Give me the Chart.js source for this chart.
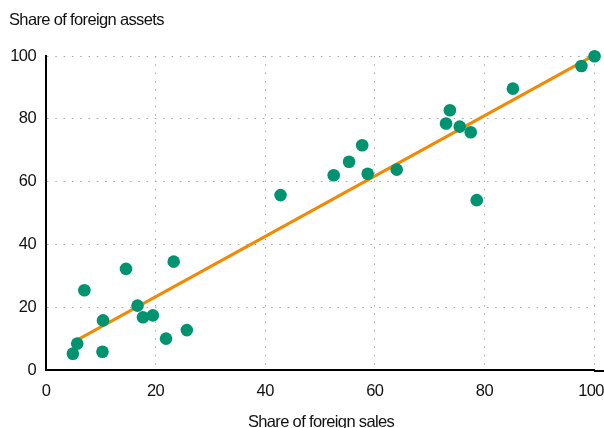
<!DOCTYPE html>
<html><head><meta charset="utf-8">
<script src="https://cdn.jsdelivr.net/npm/chart.js@4"></script>
<style>html,body{margin:0;padding:0;background:#fff;overflow:hidden}</style>
</head><body>
<canvas id="c" width="604" height="428"></canvas>
<script>
const salesShare  = [4.9, 5.7, 7.0, 10.4, 10.3, 14.6, 16.7, 17.7, 19.5, 21.9, 23.3, 25.7, 42.8, 52.5, 55.3, 57.7, 58.7, 64.0, 73.0, 73.7, 75.5, 77.5, 78.6, 85.2, 97.7, 100.1];
const assetsShare = [5.2, 8.4, 25.4, 15.8, 5.8, 32.2, 20.5, 16.8, 17.4, 10.0, 34.5, 12.7, 55.7, 62.0, 66.3, 71.6, 62.5, 63.8, 78.5, 82.7, 77.5, 75.7, 54.1, 89.6, 96.8, 99.9];
const trendX = [5.3, 100];
const trendY = [9.2, 100.2];
const tickValues = [0, 20, 40, 60, 80, 100];
const yTitle = 'Share of foreign assets';
const xTitle = 'Share of foreign sales';

const FONT = '"Liberation Sans", Arial, sans-serif';
const TEXT = '#111';

const spacingPlugin = {
  id: 'spacing',
  beforeDraw(chart) {
    chart.ctx.letterSpacing = '-0.6px';
    // keep the last x tick label inside the canvas
    const items = chart.scales.x.getLabelItems();
    const last = items[items.length - 1];
    if (last && !last._shifted) { last.options.translation[0] -= 3; last._shifted = true; }
  }
};

const titlePlugin = {
  id: 'titles',
  afterDraw(chart) {
    const ctx = chart.ctx;
    const area = chart.chartArea;
    ctx.save();
    // x axis baseline continues to the right edge
    ctx.strokeStyle = '#000';
    ctx.lineWidth = 2;
    ctx.beginPath();
    ctx.moveTo(area.right, area.bottom + 1);
    ctx.lineTo(chart.width, area.bottom + 1);
    ctx.stroke();
    ctx.letterSpacing = '-0.65px';
    ctx.fillStyle = TEXT;
    ctx.textBaseline = 'alphabetic';
    ctx.textAlign = 'left';
    ctx.font = '16.5px ' + FONT;
    ctx.fillText(yTitle, 9, 25);
    ctx.textAlign = 'center';
    ctx.fillText(xTitle, (area.left + area.right) / 2 + 1, 427);
    ctx.restore();
  }
};

const pts = salesShare.map((x, i) => ({x, y: assetsShare[i]}));
const trend = trendX.map((x, i) => ({x, y: trendY[i]}));

function tickOpts(pad) {
  return {
    padding: pad,
    color: TEXT,
    font: {family: FONT, size: 16.5},
    autoSkip: false,
    callback: v => v
  };
}

new Chart(document.getElementById('c'), {
  type: 'scatter',
  data: {
    datasets: [
      {
        type: 'scatter',
        data: pts,
        backgroundColor: '#00936f',
        borderColor: '#00936f',
        pointRadius: 6.3,
        pointHoverRadius: 6.3,
        borderWidth: 0,
        clip: false,
        order: 1
      },
      {
        type: 'line',
        data: trend,
        borderColor: '#f18a00',
        borderWidth: 3,
        pointRadius: 0,
        fill: false,
        clip: false,
        order: 2
      }
    ]
  },
  options: {
    responsive: false,
    animation: false,
    devicePixelRatio: 1,
    layout: {padding: {top: 56, right: 10, left: 0, bottom: 0}},
    plugins: {legend: {display: false}, tooltip: {enabled: false}},
    scales: {
      x: {
        type: 'linear', min: 0, max: 100,
        afterBuildTicks: s => { s.ticks = tickValues.map(v => ({value: v})); },
        afterFit: s => { s.height = 58; s.paddingLeft = 0; s.paddingRight = 0; },
        ticks: tickOpts(12),
        grid: {color: '#a8a8a8', lineWidth: 1, drawTicks: false},
        border: {display: true, color: '#000', width: 2, dash: [1.5, 6.8]}
      },
      y: {
        type: 'linear', min: 0, max: 100,
        afterBuildTicks: s => { s.ticks = tickValues.map(v => ({value: v})); },
        afterFit: s => { s.width = 46; s.paddingTop = 0; s.paddingBottom = 0; },
        ticks: tickOpts(10),
        grid: {color: '#a8a8a8', lineWidth: 1, drawTicks: false},
        border: {display: true, color: '#000', width: 2, dash: [1.5, 6.8]}
      }
    }
  },
  plugins: [spacingPlugin, titlePlugin]
});
</script>
</body></html>
